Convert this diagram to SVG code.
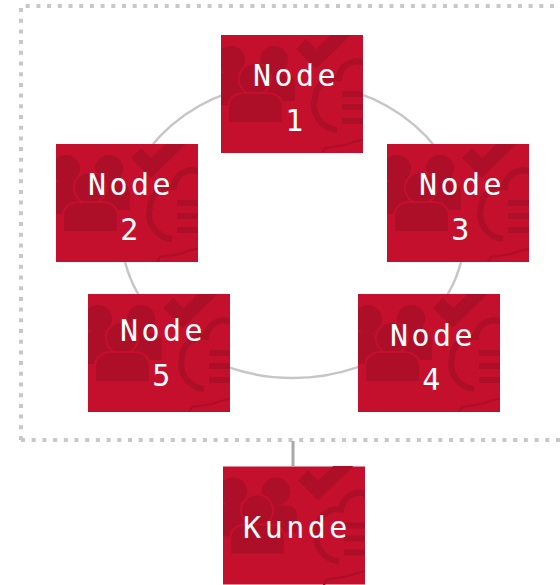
<svg xmlns="http://www.w3.org/2000/svg" xmlns:xlink="http://www.w3.org/1999/xlink" width="560" height="585" viewBox="0 0 560 585">
  <style>
    .label { font-family: "DejaVu Sans Mono", "Liberation Mono", monospace; font-size: 30px; fill: #ffffff; text-anchor: middle; letter-spacing: 3.5px; }
    .ring { fill: none; stroke: #c6c6c6; stroke-width: 2.5; }
    .frame { fill: none; stroke: #c8c8c8; stroke-width: 4; stroke-dasharray: 4 6.7; }
    .link { stroke: #a8a8a8; stroke-width: 3; }
    .dk { fill: #ad0f28; }
  </style>
  <defs>
    <!-- red tile with faint icon artwork (people, check, cloud, list) -->
    <symbol id="tile" viewBox="0 0 142 118">
      <rect width="142" height="118" fill="#c4102c"/>
      <!-- back people -->
      <circle class="dk" cx="10" cy="25" r="14"/>
      <path class="dk" d="M-14,70 L-14,50 Q-14,38 2,38 L18,38 Q30,38 30,50 L30,70 Z"/>
      <circle class="dk" cx="53" cy="25" r="14"/>
      <path class="dk" d="M32,66 L32,50 Q32,39 46,39 L62,39 Q74,39 74,50 L74,66 Z"/>
      <!-- front person -->
      <circle class="dk" cx="34" cy="44" r="16" stroke="#c4102c" stroke-width="2"/>
      <path class="dk" d="M7,88 L7,74 Q7,58 24,58 L45,58 Q62,58 62,74 L62,88 Z" stroke="#c4102c" stroke-width="2"/>
      <!-- check mark -->
      <polyline points="80,9 95,24 128,-8" fill="none" stroke="#ad0f28" stroke-width="14"/>
      <!-- cloud outline -->
      <path d="M116,95 A25,25 0 0 1 94,64 A21,21 0 0 1 118,43 A18,18 0 0 1 150,33" fill="none" stroke="#ad0f28" stroke-width="6"/>
      <!-- list bars -->
      <rect class="dk" x="121" y="56" width="25" height="6"/>
      <rect class="dk" x="121" y="69" width="25" height="6"/>
      <rect class="dk" x="121" y="83" width="25" height="6"/>
      <!-- circuit line -->
      <path d="M100,120 L104,113 L124,110 Q134,106 144,104" fill="none" stroke="#ad0f28" stroke-width="2"/>
    </symbol>
  </defs>

  <!-- dotted cluster frame -->
  <path class="frame" d="M21,440 L21,6 L570,6 M21,440 L570,440"/>

  <g id="connectors">
    <ellipse class="ring" cx="293" cy="230" rx="172" ry="148"/>
    <line class="link" x1="293" y1="441" x2="293" y2="466"/>
  </g>

  <g id="node1">
    <use xlink:href="#tile" x="221" y="35" width="142" height="118"/>
    <text class="label" x="296" y="86">Node</text>
    <text class="label" x="296" y="131">1</text>
  </g>
  <g id="node2">
    <use xlink:href="#tile" x="56" y="144" width="142" height="118"/>
    <text class="label" x="131" y="195">Node</text>
    <text class="label" x="131" y="240">2</text>
  </g>
  <g id="node3">
    <use xlink:href="#tile" x="387" y="144" width="142" height="118"/>
    <text class="label" x="462" y="195">Node</text>
    <text class="label" x="462" y="240">3</text>
  </g>
  <g id="node4">
    <use xlink:href="#tile" x="358" y="294" width="142" height="118"/>
    <text class="label" x="433" y="346">Node</text>
    <text class="label" x="433" y="390">4</text>
  </g>
  <g id="node5">
    <use xlink:href="#tile" x="88" y="294" width="142" height="118"/>
    <text class="label" x="163" y="341">Node</text>
    <text class="label" x="163" y="386">5</text>
  </g>
  <g id="kunde">
    <use xlink:href="#tile" x="223" y="466" width="142" height="119"/>
    <text class="label" x="297" y="538">Kunde</text>
  </g>
</svg>
